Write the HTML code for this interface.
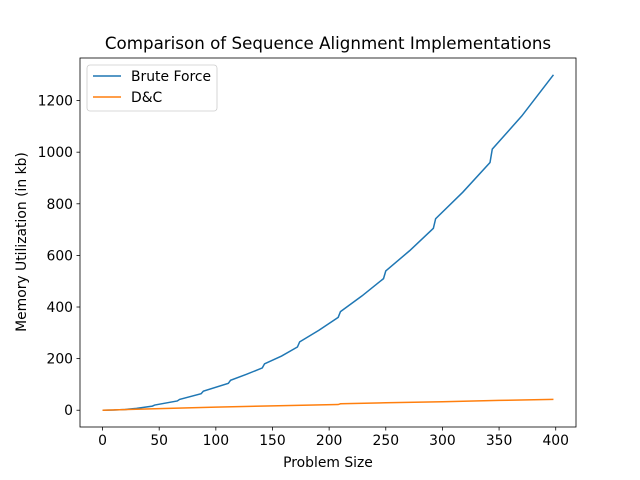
<!DOCTYPE html>
<html><head><meta charset="utf-8"><style>
body{margin:0;background:#fff}
svg{display:block;font-family:"DejaVu Sans","Liberation Sans",sans-serif}
</style></head><body>
<svg id="c" width="640" height="480"></svg>
<script>
const xTicks=[0,50,100,150,200,250,300,350,400];
const yTicks=[0,200,400,600,800,1000,1200];
const bfX=[0,10,20,30,44,46,66,68,87,89,111,113,127,141,143,158,172,174,191,208,210,229,248,250,271,292,294,318,342,344,370,398];
const bfY=[0,1,3,7,16,20,36,42,64,74,104,116,139,164,180,210,245,265,310,360,382,443,510,540,618,705,742,845,960,1012,1140,1300];
const dcX=[0,50,100,150,208,210,250,300,350,398];
const dcY=[0,6,12,17,22,25,29,33,38,42];
const L=80,R=576,T=58,B=427,x0=-19.9,x1=417.9,y0=-65,y1=1365;
const sx=v=>L+(v-x0)/(x1-x0)*(R-L), sy=v=>B-(v-y0)/(y1-y0)*(B-T);
const svg=document.getElementById('c');const NS='http://www.w3.org/2000/svg';
function mk(t,a,txt){const e=document.createElementNS(NS,t);for(const k in a)e.setAttribute(k,a[k]);if(txt!==undefined)e.textContent=txt;svg.appendChild(e);return e;}
let e=mk('rect',{x:L,y:T,width:R-L,height:B-T,fill:'none',stroke:'#000','stroke-width':0.8});


xTicks.forEach(v=>{const x=sx(v);
 let t=mk('line',{x1:x,x2:x,y1:B,y2:B+3.5,stroke:'#000','stroke-width':0.8});
 
 
 let l=mk('text',{x:x,y:B+18,'text-anchor':'middle','font-size':13.9},v);
 
 });
yTicks.forEach(v=>{const y=sy(v);
 let t=mk('line',{x1:L-3.5,x2:L,y1:y,y2:y,stroke:'#000','stroke-width':0.8});
 
 
 let l=mk('text',{x:L-7,y:y+5,'text-anchor':'end','font-size':13.9},v);
 
 });
function line(xs,ys,c,n){let p=mk('polyline',{points:xs.map((v,i)=>sx(v)+','+sy(ys[i])).join(' '),fill:'none',stroke:c,'stroke-width':1.5});
 
 }
line(bfX,bfY,'#1f77b4','brute-force-line');
line(dcX,dcY,'#ff7f0e','dc-line');
e=mk('text',{x:328,y:49,'text-anchor':'middle','font-size':16.7},'Comparison of Sequence Alignment Implementations');


e=mk('text',{x:328,y:467,'text-anchor':'middle','font-size':13.9},'Problem Size');


e=mk('text',{x:26,y:242,'text-anchor':'middle','font-size':13.9,transform:'rotate(-90 26 242)'},'Memory Utilization (in kb)');


e=mk('rect',{x:87,y:65,width:130,height:46,rx:3,fill:'#fff',stroke:'#ccc','stroke-width':0.8});


[['Brute Force','#1f77b4',76],['D&C','#ff7f0e',97]].forEach(([n,c,y])=>{
 let s=mk('line',{x1:93,x2:121,y1:y,y2:y,stroke:c,'stroke-width':1.5});
 
 
 let t=mk('text',{x:131,y:y+5,'font-size':13.9},n);
 
 });
</script>
</body></html>
